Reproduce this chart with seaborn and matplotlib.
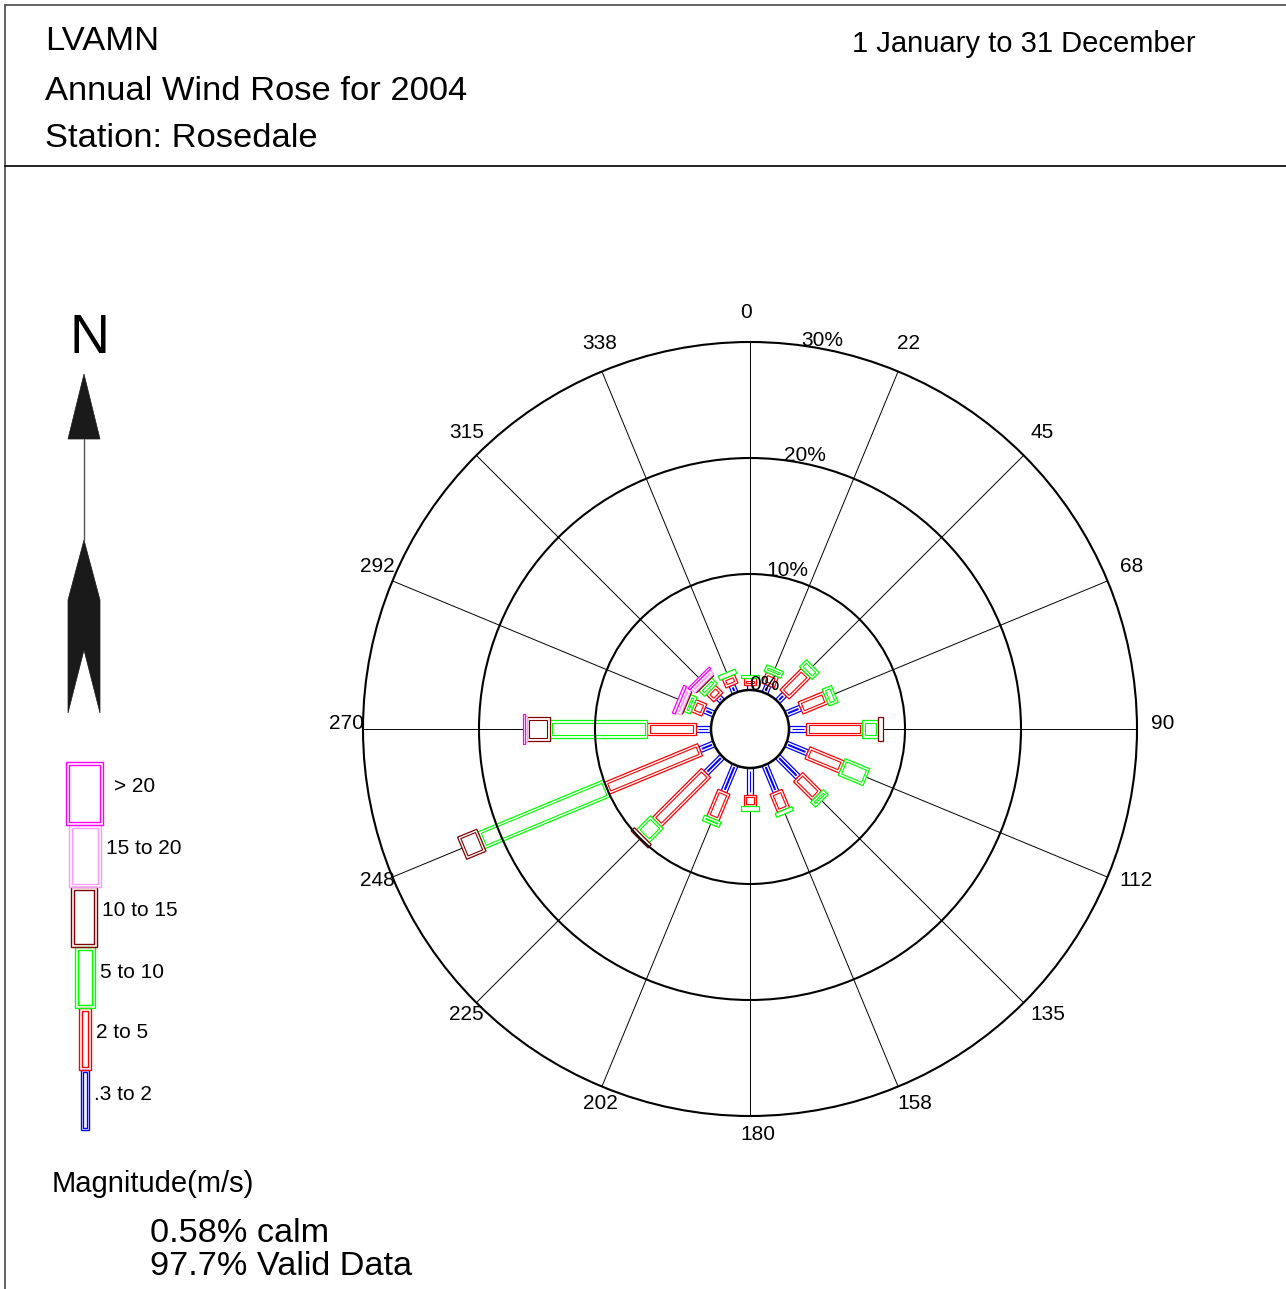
import numpy as np
import matplotlib
matplotlib.use("Agg")
from matplotlib import pyplot as plt
from matplotlib.patches import Polygon, Circle
import seaborn as sns

# wind rose data (% of time) per direction and speed class
directions = [0, 22.5, 45, 67.5, 90, 112.5, 135, 157.5,
              180, 202.5, 225, 247.5, 270, 292.5, 315, 337.5]
dir_labels = ['0', '22', '45', '68', '90', '112', '135', '158',
              '180', '202', '225', '248', '270', '292', '315', '338']
speed_classes = ['.3 to 2', '2 to 5', '5 to 10', '10 to 15', '15 to 20', '> 20']
pct_03_2 = [0.4, 0.7, 0.85, 1.35, 1.5, 2.0, 2.5, 2.5, 2.3, 2.5, 2.0, 1.3, 1.3, 0.9, 0.5, 0.7]
pct_2_5 = [0.6, 1.0, 2.6, 2.35, 4.8, 3.2, 2.3, 1.7, 1.0, 2.5, 6.0, 8.7, 4.2, 1.0, 0.9, 0.8]
pct_5_10 = [0.3, 0.6, 0.85, 0.85, 1.4, 2.3, 0.6, 0.35, 0.4, 0.5, 1.7, 11.7, 8.4, 0.6, 0.7, 0.4]
pct_10_15 = [0, 0, 0, 0, 0.4, 0, 0, 0, 0, 0, 0.4, 1.8, 2.0, 0.1, 0.1, 0]
pct_15_20 = [0, 0, 0, 0, 0, 0, 0, 0, 0, 0, 0, 0, 0.15, 0.5, 0.5, 0]
pct_gt20 = [0, 0, 0, 0, 0, 0, 0, 0, 0, 0, 0, 0, 0.15, 0.25, 0.2, 0]
ring_pcts = [10, 20, 30]
calm_pct = 0.58
valid_pct = 97.7

series = [pct_03_2, pct_2_5, pct_5_10, pct_10_15, pct_15_20, pct_gt20]
colors = ['#0000ff', '#ff0000', '#00ff00', '#800000', '#ff99ff', '#ff00ff']
half_w = [0.26, 0.56, 0.78, 1.03, 1.16, 1.29]   # bar half widths (rose units)
inset = 0.22

sns.set_theme(style="white")
plt.rcParams['font.family'] = ['Liberation Sans', 'DejaVu Sans']
plt.rcParams['text.color'] = 'black'

W, H = 1286, 1289
fig = plt.figure(figsize=(W / 100, H / 100), dpi=100)
fig.patch.set_facecolor('white')

# background axes in pixel coordinates for frame, header and legend
bg = fig.add_axes([0, 0, 1, 1])
bg.set_xlim(0, W)
bg.set_ylim(H, 0)
bg.axis('off')

bg.plot([5, W], [5, 5], color='#555555', lw=1.3)
bg.plot([5, 5], [5, H], color='#555555', lw=1.3)
bg.plot([5, W], [166, 166], color='black', lw=1.2)

bg.text(45, 50.5, 'LVAMN', fontsize=24.8, va='baseline')
bg.text(45, 99.5, 'Annual Wind Rose for 2004', fontsize=24.8, va='baseline')
bg.text(45, 147, 'Station: Rosedale', fontsize=24.8, va='baseline')
bg.text(852, 52.5, '1 January to 31 December', fontsize=21, va='baseline')

# north arrow
bg.text(89, 353, 'N', fontsize=40, ha='center', va='baseline')
bg.add_patch(Polygon([(84, 374), (100, 439), (68, 439)], closed=True,
                     facecolor='#1a1a1a', edgecolor='#1a1a1a', lw=0.5))
bg.plot([84, 84], [439, 540], color='#555555', lw=1)
bg.add_patch(Polygon([(84, 540), (100, 600), (100, 713), (84, 650),
                      (68, 713), (68, 600)], closed=True,
                     facecolor='#1a1a1a', edgecolor='#1a1a1a', lw=0.5))

# legend boxes
leg_boxes = [(81, 89, 1070, 1130), (79.3, 90.7, 1008, 1070), (75, 95, 946.7, 1008),
             (71, 96.7, 886.7, 946.7), (69.3, 100.7, 825, 886.7), (65.7, 102.7, 762.3, 825)]
leg_text_pos = [(94, 1099.5), (96, 1037.5), (100, 978.5), (102, 916.5), (106, 854.5), (114, 792.5)]
for (x0, x1, y0, y1), col, lab, (tx, ty) in zip(leg_boxes, colors, speed_classes, leg_text_pos):
    bg.add_patch(Polygon([(x0, y0), (x1, y0), (x1, y1), (x0, y1)], closed=True,
                         facecolor='none', edgecolor=col, lw=1.0))
    d = 3.0 if x1 - x0 > 10 else 2.0
    bg.add_patch(Polygon([(x0 + d, y0 + d), (x1 - d, y0 + d), (x1 - d, y1 - d), (x0 + d, y1 - d)],
                         closed=True, facecolor='none', edgecolor=col, lw=1.0))
    bg.text(tx, ty, lab, fontsize=15, va='baseline')

bg.text(52, 1192, 'Magnitude(m/s)', fontsize=21, va='baseline')
bg.text(150, 1242, f'{calm_pct}% calm', fontsize=24.7, va='baseline')
bg.text(150, 1275, f'{valid_pct}% Valid Data', fontsize=24.7, va='baseline')

# rose axes: 1 unit = 1 percent = 11.6 px, centred at (750, 729)
scale = 11.6
L = 40
ax = fig.add_axes([(750 - L * scale) / W, (H - 729 - L * scale) / H,
                   2 * L * scale / W, 2 * L * scale / H])
ax.set_xlim(-L, L)
ax.set_ylim(-L, L)
ax.axis('off')
ax.patch.set_alpha(0)

calm_r = 39 / scale
outer = calm_r + max(ring_pcts)

for th in directions:
    t = np.deg2rad(th)
    ax.plot([calm_r * np.sin(t), outer * np.sin(t)],
            [calm_r * np.cos(t), outer * np.cos(t)], color='black', lw=0.7, zorder=1)

ax.add_patch(Circle((0, 0), calm_r, facecolor='white', edgecolor='black', lw=1.8, zorder=4))
for p in ring_pcts:
    ax.add_patch(Circle((0, 0), calm_r + p, facecolor='none', edgecolor='black', lw=1.5, zorder=4))

def rect(t, r0, r1, hw):
    u = np.array([np.sin(t), np.cos(t)])
    v = np.array([np.cos(t), -np.sin(t)])
    return [r0 * u + hw * v, r1 * u + hw * v, r1 * u - hw * v, r0 * u - hw * v]

for i, th in enumerate(directions):
    t = np.deg2rad(th)
    r = calm_r
    for k, s in enumerate(series):
        val = s[i]
        if val <= 0:
            continue
        r1 = r + val
        ax.add_patch(Polygon(rect(t, r, r1, half_w[k]), closed=True, facecolor='white',
                             edgecolor=colors[k], lw=0.9, zorder=2))
        if r1 - r > 2 * inset + 0.05:
            ax.add_patch(Polygon(rect(t, r + inset, r1 - inset, half_w[k] - inset), closed=True,
                                 facecolor='none', edgecolor=colors[k], lw=0.8, zorder=3))
        r = r1

# direction labels
lab_r = 411 / scale
for th, lab in zip(directions, dir_labels):
    t = np.deg2rad(th)
    ax.text(lab_r * np.sin(t) - 10 / scale, lab_r * np.cos(t), lab,
            fontsize=15, ha='left', va='baseline', zorder=5)

# percent ring labels
sa = 0.15
ca = np.sqrt(1 - sa ** 2)
for p in [0] + ring_pcts:
    rr = calm_r + p
    ax.text(rr * sa - 7 / scale, rr * ca, f'{p}%', fontsize=15,
            ha='left', va='baseline', zorder=5)

plt.savefig('out.png', dpi=100, facecolor='white')
